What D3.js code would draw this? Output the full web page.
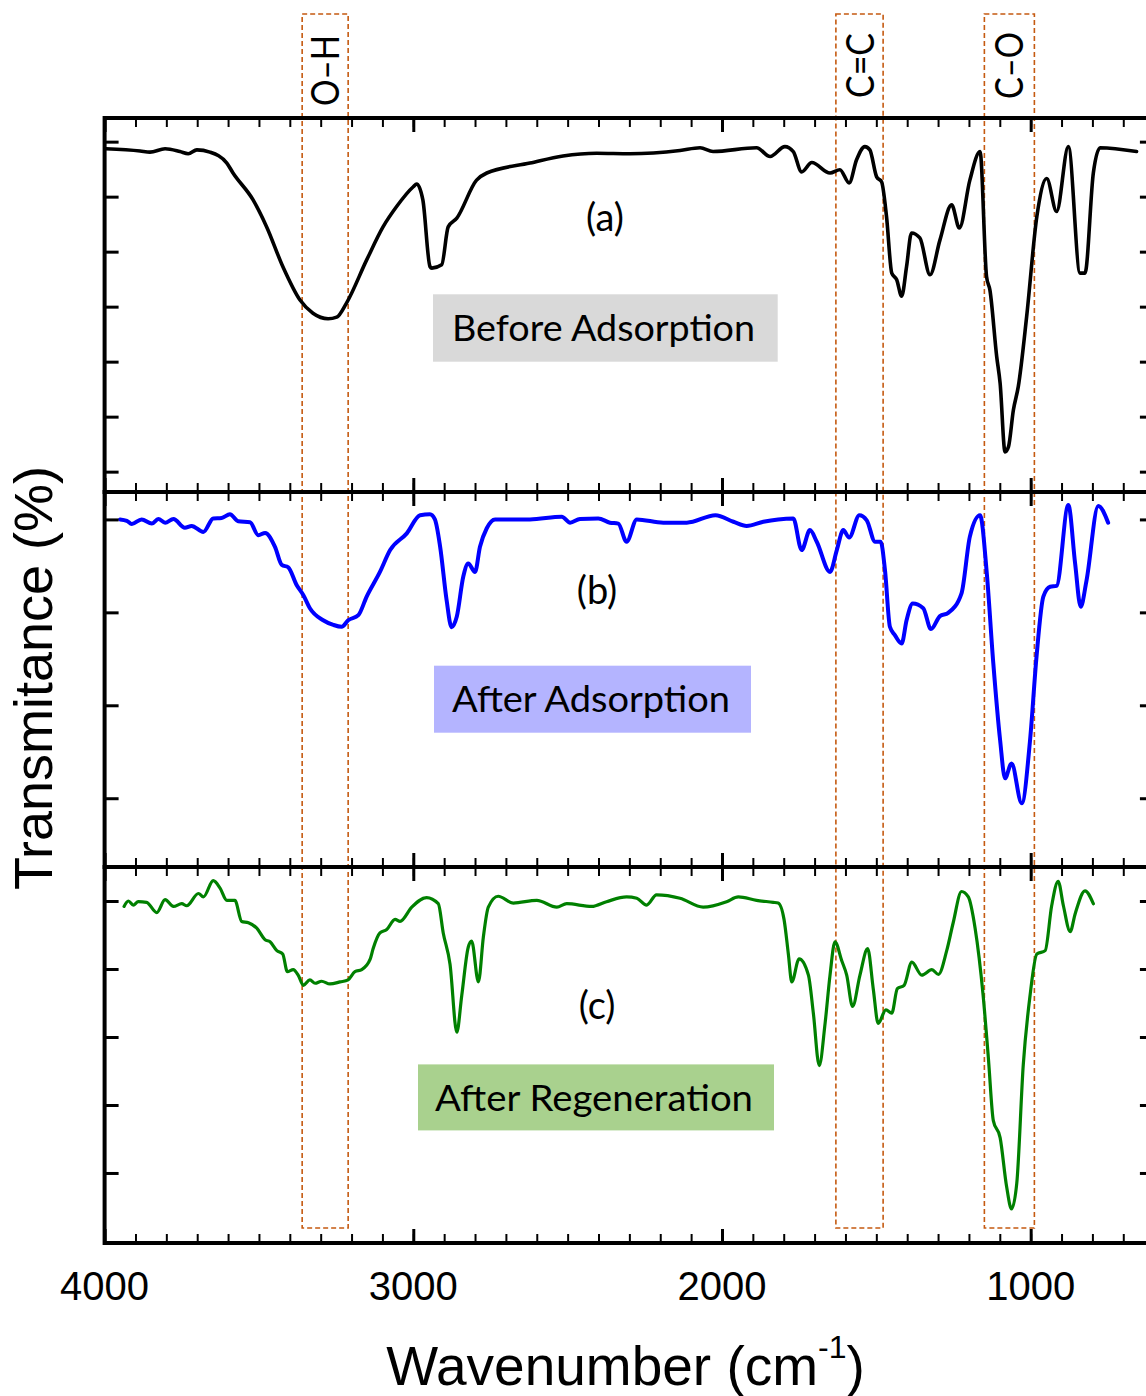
<!DOCTYPE html>
<html>
<head>
<meta charset="utf-8">
<script src="https://cdn.jsdelivr.net/npm/d3@7"></script>
<style>
  body { margin: 0; background: #fff; }
  svg { display: block; }
</style>
</head>
<body>
<div id="chart"></div>
<script>
// spectra: [wavenumber (cm-1), transmittance (arb. %)]
var beforeAdsorption = [
  [3996,98.7],[3885,98.3],[3853,98.1],[3804,98.7],[3756,98.2],[3729,97.8],[3701,98.5],[3659,98.1],
  [3604,96.1],[3584,94.3],[3519,89.4],[3475,84.5],[3422,77.2],[3367,71.2],[3325,68.8],[3276,67.8],
  [3248,68.1],[3216,70.7],[3151,78.5],[3098,84.5],[3054,88.2],[3000,91.8],[2989,92.3],[2969,89.4],
  [2946,77.3],[2940,77.0],[2908,77.6],[2887,84.5],[2859,86.1],[2795,93.0],[2762,94.3],[2622,96.1],
  [2515,97.4],[2406,97.9],[2298,97.8],[2136,98.4],[2071,98.9],[2029,98.2],[1888,98.9],[1844,97.3],
  [1796,99.1],[1769,98.2],[1742,94.5],[1709,96.2],[1650,94.3],[1618,94.9],[1588,92.5],[1564,96.7],
  [1537,99.1],[1521,98.5],[1499,93.6],[1483,92.7],[1467,86.4],[1450,76.1],[1434,74.9],[1418,71.9],
  [1402,77.3],[1386,83.4],[1359,82.5],[1326,75.8],[1294,82.1],[1256,88.5],[1231,84.3],[1197,93.0],
  [1164,98.2],[1143,75.5],[1132,73.0],[1110,60.9],[1099,56.1],[1083,43.6],[1072,44.5],[1056,51.2],
  [1040,55.5],[1013,68.2],[980,86.4],[948,93.3],[916,87.3],[878,99.1],[840,76.1],[824,76.1],
  [797,94.3],[775,98.9],[657,98.2]
];

var afterAdsorption = [
  [3950,100],[3928,99.7],[3912,99.0],[3880,100],[3847,99.1],[3826,100.1],[3804,99.3],[3777,100.1],
  [3740,98.2],[3718,98.6],[3680,97.3],[3648,100.2],[3621,100.3],[3594,101.1],[3567,99.6],[3529,99.4],
  [3502,96.6],[3480,97.1],[3448,94.1],[3426,90.2],[3405,89.7],[3378,85.9],[3356,83.7],[3335,80.9],
  [3292,78.3],[3259,77.3],[3232,76.9],[3211,78.3],[3178,79.4],[3151,83.4],[3108,88.7],[3075,93.4],
  [3021,97.0],[2978,100.9],[2946,101.1],[2930,100],[2913,94.1],[2892,82.6],[2876,76.8],[2859,79.1],
  [2838,87.7],[2822,90.5],[2800,88.7],[2784,94.1],[2762,98.1],[2735,100],[2622,100],[2519,100.6],
  [2492,99.3],[2460,100.1],[2401,100.2],[2363,99.3],[2336,99.1],[2309,95.2],[2276,100],[2190,99.3],
  [2114,99.3],[2021,100.9],[1963,99.5],[1920,98.6],[1866,99.5],[1818,100],[1769,100.2],[1742,93.4],
  [1715,97.7],[1693,95.2],[1650,88.7],[1628,93.4],[1607,97.7],[1588,96.1],[1555,100.9],[1531,99.8],
  [1504,95.2],[1486,95.2],[1472,89.1],[1456,76.9],[1440,75.1],[1418,73.3],[1402,78.3],[1382,81.9],
  [1348,80.9],[1323,76.4],[1294,79.2],[1267,79.9],[1224,84.1],[1197,96.3],[1164,100.9],[1143,89.1],
  [1121,69.0],[1099,52.5],[1083,44.3],[1062,47.5],[1029,38.9],[1002,52.5],[981,70.5],[959,83.4],
  [937,85.5],[916,85.7],[878,103.1],[856,90.5],[838,81.2],[819,86.9],[781,102.9],[749,99.3]
];

var afterRegeneration = [
  [3937,99.2],[3923,100],[3907,99.4],[3891,99.9],[3864,99.8],[3831,98.3],[3804,100.2],[3777,99.2],
  [3750,99.6],[3734,99.3],[3696,101.1],[3680,100.6],[3648,103.0],[3626,101.9],[3604,100.1],[3578,100.1],
  [3556,97.0],[3534,96.8],[3507,96.0],[3480,94.3],[3464,94.0],[3442,92.7],[3423,92.2],[3408,89.6],
  [3389,89.9],[3373,89.1],[3356,87.6],[3335,88.4],[3318,87.9],[3297,88.2],[3270,87.8],[3237,88.1],
  [3211,88.4],[3189,89.6],[3167,89.9],[3140,91.4],[3130,93.0],[3108,95.3],[3086,95.8],[3059,97.3],
  [3043,97.0],[3005,99.1],[2957,100.5],[2919,99.6],[2903,95.3],[2881,90.7],[2859,80.7],[2843,86.1],
  [2822,93.2],[2811,94.1],[2789,88.1],[2773,94.7],[2757,99.1],[2725,100.7],[2676,99.7],[2600,100.1],
  [2535,99.1],[2503,99.6],[2422,99.2],[2374,99.9],[2309,100.6],[2276,100.4],[2244,99.4],[2212,100.9],
  [2136,100.4],[2061,99.1],[1985,99.9],[1947,100.6],[1888,100.1],[1834,99.8],[1818,99.7],[1799,97.3],
  [1785,92.2],[1774,88.1],[1750,91.5],[1720,89.1],[1704,83.5],[1685,75.8],[1666,82.0],[1650,89.1],
  [1634,94.0],[1612,91.2],[1596,89.1],[1577,84.5],[1553,89.1],[1528,93.0],[1510,87.1],[1494,82.0],
  [1469,84.0],[1450,83.5],[1432,87.1],[1410,87.6],[1385,91.0],[1353,89.1],[1320,89.9],[1299,89.2],
  [1272,92.7],[1251,96.8],[1224,101.4],[1202,100.6],[1180,96.0],[1154,86.1],[1137,76.9],[1121,67.7],
  [1099,65.2],[1078,58.0],[1062,54.7],[1045,58.5],[1024,75.9],[1002,86.1],[980,92.2],[953,92.7],
  [932,99.3],[911,102.9],[894,99.3],[872,95.5],[856,98.1],[824,101.5],[797,99.6]
];

var xMajorTicks = [4000, 3000, 2000, 1000];
var xMinorTicks = d3.range(3900, 600, -100);
var aTicks = [100, 90, 80, 70, 60, 50, 40];
var bTicks = [100, 80, 60, 40];
var cTicks = [100, 90, 80, 70, 60];

var bandLabels = ["O\u2013H", "C=C", "C\u2013O"];
var bandHigh = [3360, 1631, 1150];
var bandLow = [3211, 1478, 988];

var panelTags = ["(a)", "(b)", "(c)"];
var sampleNames = ["Before Adsorption", "After Adsorption", "After Regeneration"];

// ---- layout ----
var width = 1146, height = 1396;
var svg = d3.select("#chart").append("svg")
  .attr("width", width)
  .attr("height", height);
svg.append("rect").attr("width", width).attr("height", height).attr("fill", "#fff");

var left = 104.6, right = 1148.9;
var x = d3.scaleLinear().domain([4000, 617]).range([left, right]);

var panels = [
  { data: beforeAdsorption, color: "#000", lw: 3.6, top: 118, bottom: 492, dom: [36.3, 104.3], ticks: aTicks,
    tag: [605, 231], box: [433, 294.3, 777.7, 361.7], boxFill: "#d9d9d9", text: [603.5, 340.7, 303] },
  { data: afterAdsorption, color: "#0000ff", lw: 4, top: 492, bottom: 867, dom: [25.2, 105.9], ticks: bTicks,
    tag: [597, 604], box: [434, 665.7, 751, 732.7], boxFill: "#b4b4ff", text: [591, 712.3, 278] },
  { data: afterRegeneration, color: "#008000", lw: 3.2, top: 867, bottom: 1243, dom: [49.7, 105], ticks: cTicks,
    tag: [597, 1019], box: [418, 1064.4, 774, 1130.4], boxFill: "#a9d18e", text: [594, 1111, 318] }
];

// dashed band boxes (behind the spectra)
var bands = svg.append("g");
bandLabels.forEach(function(lab, i) {
  var x0 = x(bandHigh[i]), x1 = x(bandLow[i]);
  bands.append("rect")
    .attr("x", x0).attr("y", 14)
    .attr("width", x1 - x0).attr("height", 1228 - 14)
    .attr("fill", "none")
    .attr("stroke", "#c55a11")
    .attr("stroke-width", 1.6)
    .attr("stroke-dasharray", "5,3");
  var cx = (x0 + x1) / 2;
  bands.append("text")
    .attr("transform", "translate(" + (cx + 14) + "," + (i == 0 ? 70.5 : 65.5) + ") rotate(-90)")
    .attr("text-anchor", "middle")
    .attr("font-family", "Lato, 'Noto Sans', sans-serif")
    .attr("font-size", 38)
    .attr("textLength", i == 0 ? 71 : (i == 1 ? 65 : 67))
    .attr("lengthAdjust", "spacingAndGlyphs")
    .text(lab);
});

panels.forEach(function(p, i) {
  var y = d3.scaleLinear().domain(p.dom).range([p.bottom, p.top]);
  var g = svg.append("g");

  // label box + sample name
  g.append("rect")
    .attr("x", p.box[0]).attr("y", p.box[1])
    .attr("width", p.box[2] - p.box[0]).attr("height", p.box[3] - p.box[1])
    .attr("fill", p.boxFill);
  g.append("text")
    .attr("x", p.text[0]).attr("y", p.text[1])
    .attr("text-anchor", "middle")
    .attr("font-family", "Lato, 'Noto Sans', sans-serif")
    .attr("font-size", 36)
    .attr("textLength", p.text[2])
    .attr("lengthAdjust", "spacingAndGlyphs")
    .text(sampleNames[i]);
  g.append("text")
    .attr("x", p.tag[0]).attr("y", p.tag[1])
    .attr("text-anchor", "middle")
    .attr("font-family", "Lato, 'Noto Sans', sans-serif")
    .attr("font-size", 38)
    .text(panelTags[i]);

  // spectrum
  var line = d3.line()
    .curve(d3.curveMonotoneX)
    .x(function(d) { return x(d[0]); })
    .y(function(d) { return y(d[1]); });
  g.append("path")
    .datum(p.data)
    .attr("d", line)
    .attr("fill", "none")
    .attr("stroke", p.color)
    .attr("stroke-width", p.lw)
    .attr("stroke-linejoin", "round")
    .attr("stroke-linecap", "round");

  // ticks, all pointing inward
  function tickStyle(sel, w) {
    sel.select(".domain").remove();
    sel.selectAll(".tick line").attr("stroke", "#000").attr("stroke-width", w);
  }
  g.append("g").attr("transform", "translate(0," + p.top + ")")
    .call(d3.axisTop(x).tickValues(xMinorTicks).tickSize(-9).tickFormat(""))
    .call(tickStyle, 2);
  g.append("g").attr("transform", "translate(0," + p.top + ")")
    .call(d3.axisTop(x).tickValues(xMajorTicks).tickSize(-14).tickFormat(""))
    .call(tickStyle, 3);
  g.append("g").attr("transform", "translate(0," + p.bottom + ")")
    .call(d3.axisBottom(x).tickValues(xMinorTicks).tickSize(-9).tickFormat(""))
    .call(tickStyle, 2);
  g.append("g").attr("transform", "translate(0," + p.bottom + ")")
    .call(d3.axisBottom(x).tickValues(xMajorTicks).tickSize(-14).tickFormat(""))
    .call(tickStyle, 3);
  g.append("g").attr("transform", "translate(" + left + ",0)")
    .call(d3.axisLeft(y).tickValues(p.ticks).tickSize(-14).tickFormat(""))
    .call(tickStyle, 3);
  g.append("g").attr("transform", "translate(" + right + ",0)")
    .call(d3.axisRight(y).tickValues(p.ticks).tickSize(-9).tickFormat(""))
    .call(tickStyle, 3);

  // frame
  g.append("rect")
    .attr("x", left).attr("y", p.top)
    .attr("width", right - left).attr("height", p.bottom - p.top)
    .attr("fill", "none")
    .attr("stroke", "#000")
    .attr("stroke-width", 4);
});

// x tick labels
svg.append("g").selectAll("text")
  .data(xMajorTicks)
  .enter().append("text")
  .attr("x", function(d) { return x(d); })
  .attr("y", 1300)
  .attr("text-anchor", "middle")
  .attr("font-family", "'Liberation Sans', Arial, sans-serif")
  .attr("font-size", 40)
  .text(function(d) { return d; });

// axis titles
var xt = svg.append("text")
  .attr("x", 625.5).attr("y", 1385)
  .attr("text-anchor", "middle")
  .attr("font-family", "'Liberation Sans', Arial, sans-serif")
  .attr("font-size", 55);
xt.append("tspan").text("Wavenumber (cm");
xt.append("tspan").attr("font-size", 32).attr("dy", -27).text("-1");
xt.append("tspan").attr("dy", 27).text(")");

svg.append("text")
  .attr("transform", "translate(52,678) rotate(-90)")
  .attr("text-anchor", "middle")
  .attr("font-family", "'Liberation Sans', Arial, sans-serif")
  .attr("font-size", 54)
  .text("Transmitance (%)");
</script>
</body>
</html>
